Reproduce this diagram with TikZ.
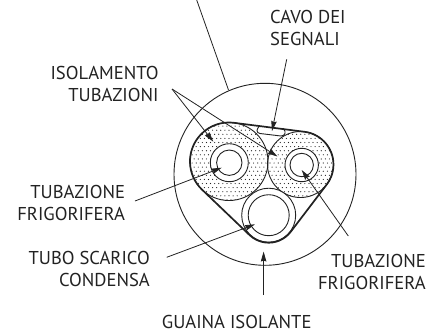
\documentclass[tikz,border=0pt]{standalone}
\usepackage{fontspec}
\setmainfont{PT Sans}
\usetikzlibrary{arrows.meta}
\definecolor{ink}{HTML}{222222}
\tikzset{
  lab/.style={inner sep=0pt,text depth=0pt,text=ink,font=\fontsize{18.6}{22}\selectfont},
  thinline/.style={draw=ink,line width=0.9pt},
  hull/.style={draw=ink,line width=1.7pt,line join=round},
  lead/.style={draw=ink,line width=0.8pt},
  arr/.style={lead,-{Stealth[length=10pt,width=5.5pt,inset=1pt,fill=ink]}}
}
\begin{document}
\begin{tikzpicture}[x=1pt,y=-1pt]
\useasboundingbox (0,0) rectangle (437,333);
% outer sheath
\draw[thinline] (265,174.3) circle [radius=91];
% stipple
\begin{scope}
  \clip (229,161.5) circle [radius=39] (300.5,164.5) circle [radius=33];
  \foreach \i in {0,...,36}{
    \foreach \j in {0,...,20}{
      \fill[ink] ({188+4.1*\i+mod(\j,2)*2.05},{122+4.1*\j}) circle [radius=0.6];
    }
  }
\end{scope}
% insulated pipes
\draw[thinline] (229,161.5) circle [radius=39];
\draw[thinline] (300.5,164.5) circle [radius=33];
\draw[thinline,fill=white] (229.3,162.7) circle [radius=19];
\draw[thinline] (229.3,162.7) circle [radius=12.7];
\draw[thinline,fill=white] (301.7,165) circle [radius=16.7];
\draw[thinline] (301.7,165) circle [radius=11.7];
% drain
\draw[thinline,fill=white] (268.7,215.2) circle [radius=27];
\draw[thinline] (268.7,215.2) circle [radius=20.5];
% signal cable
\draw[thinline,fill=white] (260,125.6)
  .. controls (256,129) and (256,133) .. (260,133.5)
  -- (281,136)
  .. controls (285,136) and (287,132) .. (283,128.2);
% hull
\draw[hull] (233.9,122.8) -- (304.6,131.8)
  arc [start angle=-82.8,end angle=37.3,radius=33]
  -- (290.7,231.8)
  arc [start angle=37.3,end angle=133.6,radius=27.7]
  -- (202.1,189.7)
  arc [start angle=133.6,end angle=277.2,radius=39] -- cycle;
% labels
\node[lab,anchor=south east,align=right] (iso) at (158.7,101.7) {ISOLAMENTO\\TUBAZIONI};
\node[lab,anchor=south west,align=left] (cavo) at (270,45.7) {CAVO DEI\\SEGNALI};
\node[lab,anchor=south east,align=right] (tubl) at (125.3,220.7) {TUBAZIONE\\FRIGORIFERA};
\node[lab,anchor=south east,align=right] (scar) at (150,286.5) {TUBO SCARICO\\CONDENSA};
\node[lab,anchor=south east,align=right] (tubr) at (426,289.3) {TUBAZIONE\\FRIGORIFERA};
\node[lab,anchor=south] (guai) at (236.7,329) {GUAINA ISOLANTE};
% leaders
\coordinate (topa) at (196.7,0);
\coordinate (topb) at (228.5,90);
\coordinate (isoS) at (172,89);
\coordinate (isoA) at (213.3,141.7);
\coordinate (isoB) at (277.5,156.5);
\coordinate (cavS) at (286.7,59.3);
\coordinate (cavT) at (272,131);
\coordinate (tlS) at (135,201);
\coordinate (tlT) at (221.7,167.7);
\coordinate (scS) at (166.7,257.3);
\coordinate (scT) at (255,224.3);
\coordinate (trS) at (348.3,236);
\coordinate (trT) at (301.7,170);
\coordinate (guS) at (263.6,295);
\coordinate (guT) at (263.6,251.5);
\draw[lead] (topa) -- (topb);
\draw[arr] (isoS) -- (isoA);
\draw[arr] (isoS) -- (isoB);
\draw[arr] (cavS) -- (cavT);
\draw[arr] (tlS) -- (tlT);
\draw[arr] (scS) -- (scT);
\draw[arr] (trS) -- (trT);
\draw[arr] (guS) -- (guT);
\end{tikzpicture}
\end{document}
